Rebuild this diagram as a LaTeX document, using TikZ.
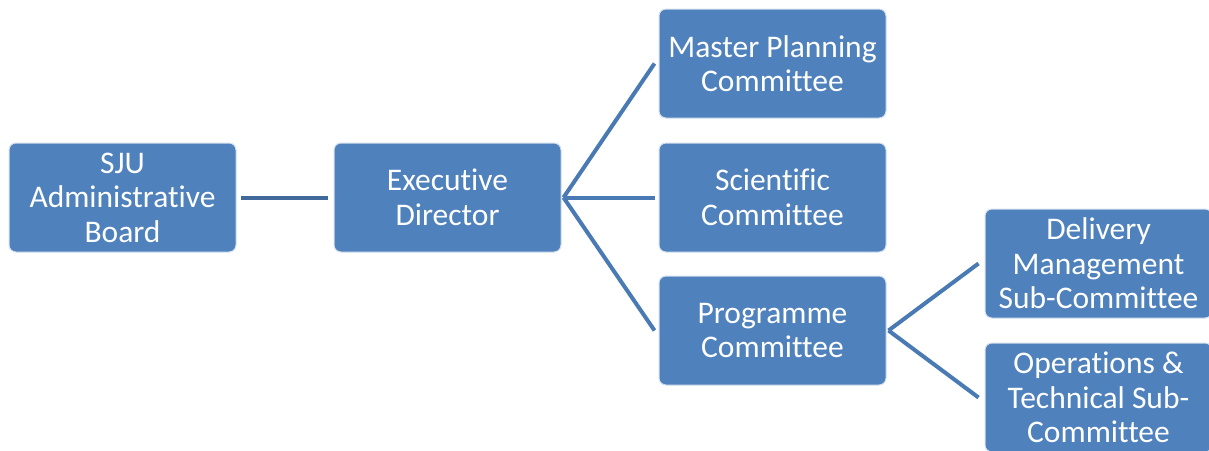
\documentclass[tikz,border=0pt]{standalone}
\usepackage{fontspec}
\setmainfont{Carlito}[Ligatures={NoCommon}]
\definecolor{boxblue}{HTML}{4F81BD}
\definecolor{linkblue}{HTML}{4A7AB4}
\definecolor{darklink}{HTML}{41699C}
\begin{document}
\begin{tikzpicture}[x=1pt,y=-1pt,
  orgbox/.style={rectangle, rounded corners=7pt, fill=boxblue, draw=white!75!boxblue, line width=1pt,
    minimum width=227pt, minimum height=109pt, text width=225pt, align=flush center, text=white,
    inner sep=0pt, font=\fontsize{31.5}{34.5}\selectfont},
  link/.style={draw=linkblue, line width=4pt}]
\useasboundingbox (0,0) rectangle (1209,450);
\node[orgbox] (sju) at (122.5,197.5) {SJU\\Administrative\\Board};
\node[orgbox] (ed) at (447.5,197.5) {Executive\\Director};
\node[orgbox] (mp) at (772.5,63.5) {Master Planning\\Committee};
\node[orgbox] (sc) at (772.5,197.5) {Scientific\\Committee};
\node[orgbox] (pc) at (772.5,330.5) {Programme\\Committee};
\node[orgbox] (dm) at (1098.5,263.5) {Delivery\\Management\\Sub-Committee};
\node[orgbox] (ot) at (1098.5,397.5) {Operations \&\\Technical Sub-\\Committee};
\coordinate (edfork) at ([xshift=2pt]ed.east);
\coordinate (pcfork) at ([xshift=2pt]pc.east);
\draw[link, draw=darklink, shorten <=4pt, shorten >=6pt] (sju.east) -- (ed.west);
\draw[link] (edfork) -- ([xshift=-4pt]mp.west);
\draw[link] (edfork) -- ([xshift=-4pt]sc.west);
\draw[link] (edfork) -- ([xshift=-4pt]pc.west);
\draw[link] (pcfork) -- ([xshift=-6pt]dm.west);
\draw[link] (pcfork) -- ([xshift=-6pt]ot.west);
\end{tikzpicture}
\end{document}
